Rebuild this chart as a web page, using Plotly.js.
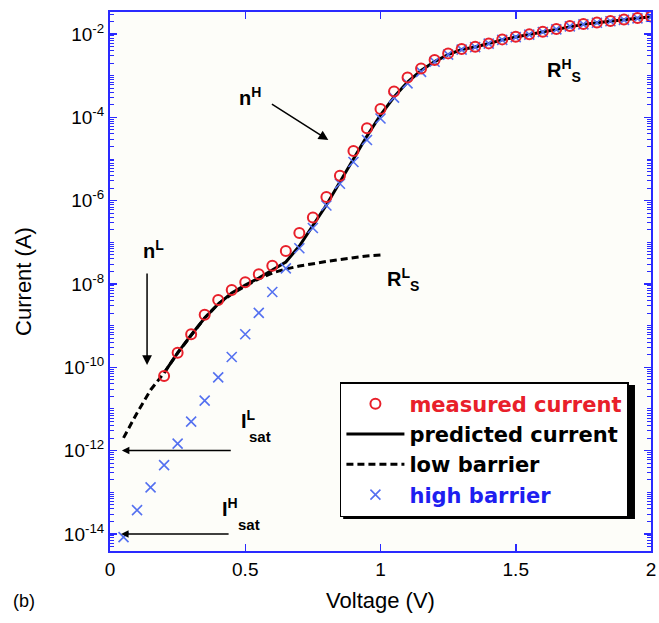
<!DOCTYPE html>
<html><head><meta charset="utf-8">
<script src="https://cdn.plot.ly/plotly-3.0.1.min.js"></script>
<style>body{margin:0;background:#fff}#chart{width:659px;height:623px}</style>
</head><body><div id="chart"></div>
<script>
const voltageMeasured = [0.20,0.25,0.30,0.35,0.40,0.45,0.50,0.55,0.60,0.65,0.70,0.75,0.80,0.85,0.90,0.95,1.00,1.05,1.10,1.15,1.20,1.25,1.30,1.35,1.40,1.45,1.50,1.55,1.60,1.65,1.70,1.75,1.80,1.85,1.90,1.95,2.00];
const currentMeasured = [6.21e-11,2.25e-10,6.21e-10,1.83e-9,4.13e-9,7.18e-9,1.10e-8,1.71e-8,2.75e-8,6.19e-8,1.67e-7,3.94e-7,1.22e-6,3.97e-6,1.56e-5,5.46e-5,1.58e-4,4.17e-4,9.03e-4,1.49e-3,2.38e-3,3.44e-3,4.37e-3,4.95e-3,5.98e-3,7.46e-3,8.61e-3,9.84e-3,1.14e-2,1.32e-2,1.56e-2,1.74e-2,1.89e-2,2.05e-2,2.23e-2,2.42e-2,2.63e-2];

const voltagePredicted = [0.20,0.25,0.30,0.35,0.40,0.45,0.50,0.55,0.60,0.65,0.70,0.75,0.80,0.85,0.90,0.95,1.00,1.05,1.10,1.15,1.20,1.25,1.30,1.35,1.40,1.45,1.50,1.55,1.60,1.65,1.70,1.75,1.80,1.85,1.90,1.95,2.00];
const currentPredicted = [7.33e-11,2.21e-10,5.98e-10,1.53e-9,3.31e-9,6.08e-9,9.46e-9,1.39e-8,2.17e-8,3.37e-8,8.17e-8,2.47e-7,7.87e-7,2.81e-6,1.00e-5,3.56e-5,1.14e-4,3.08e-4,7.05e-4,1.33e-3,2.19e-3,3.22e-3,4.25e-3,4.88e-3,5.92e-3,7.26e-3,8.47e-3,9.73e-3,1.12e-2,1.30e-2,1.53e-2,1.71e-2,1.87e-2,2.03e-2,2.20e-2,2.39e-2,2.60e-2];

const voltageLow = [0.05,0.10,0.15,0.20,0.25,0.30,0.35,0.40,0.45,0.50,0.55,0.60,0.65,0.70,0.75,0.80,0.85,0.90,0.95,1.00];
const currentLow = [2.02e-12,8.03e-12,2.86e-11,7.33e-11,2.21e-10,5.98e-10,1.53e-9,3.31e-9,5.75e-9,8.95e-9,1.32e-8,1.84e-8,2.29e-8,2.70e-8,3.10e-8,3.47e-8,3.87e-8,4.33e-8,4.70e-8,4.97e-8];

const voltageHigh = [0.05,0.10,0.15,0.20,0.25,0.30,0.35,0.40,0.45,0.50,0.55,0.60,0.65,0.70,0.75,0.80,0.85,0.90,0.95,1.00,1.05,1.10,1.15,1.20,1.25,1.30,1.35,1.40,1.45,1.50,1.55,1.60,1.65,1.70,1.75,1.80,1.85,1.90,1.95,2.00];
const currentHigh = [8.35e-15,3.72e-14,1.31e-13,4.47e-13,1.47e-12,4.97e-12,1.58e-11,5.71e-11,1.77e-10,6.21e-10,2.02e-9,6.43e-9,2.38e-8,7.20e-8,2.21e-7,7.66e-7,2.55e-6,8.47e-6,2.86e-5,9.38e-5,2.99e-4,6.56e-4,1.24e-3,2.16e-3,3.22e-3,4.25e-3,4.88e-3,5.92e-3,7.26e-3,8.47e-3,9.73e-3,1.12e-2,1.30e-2,1.53e-2,1.71e-2,1.87e-2,2.03e-2,2.20e-2,2.39e-2,2.60e-2];

const seriesNames = ['measured current','predicted current','low barrier','high barrier'];
const xTickVals = [0,0.5,1,1.5,2];
const xTickText = ['0','0.5','1','1.5','2'];
const yTickVals = [1e-14,1e-12,1e-10,1e-8,1e-6,1e-4,1e-2];
const yTickText = ['10<sup>-14</sup>','10<sup>-12</sup>','10<sup>-10</sup>','10<sup>-8</sup>','10<sup>-6</sup>','10<sup>-4</sup>','10<sup>-2</sup>'];

const AXIS_BLUE = '#2a2aff';
const RED = '#e8202a';
const XBLUE = '#5470f0';
const FONT = 'Liberation Sans, Arial, sans-serif';

const traces = [
  {x: voltagePredicted, y: currentPredicted, type:'scatter', mode:'lines', name: seriesNames[1], legendrank: 2,
   line:{color:'#000', width:3}},
  {x: voltageLow, y: currentLow, type:'scatter', mode:'lines', name: seriesNames[2], legendrank: 3,
   line:{color:'#000', width:3, dash:'7px,4px'}},
  {x: voltageHigh, y: currentHigh, type:'scatter', mode:'markers', name: '<span style="color:#1e1ef0">'+seriesNames[3]+'</span>', legendrank: 4,
   marker:{symbol:'x-thin-open', size:10, color:XBLUE, line:{color:XBLUE, width:1.6}}},
  {x: voltageMeasured, y: currentMeasured, type:'scatter', mode:'markers', name: '<span style="color:#e8202a">'+seriesNames[0]+'</span>', legendrank: 1,
   marker:{symbol:'circle-open', size:10, color:RED, line:{color:RED, width:2}}}
];

function lg(v){ return Math.log10(v); }

const ann = [];
function txt(x, y, text, size, opts){
  ann.push(Object.assign({x:x, y:y, xref:'x', yref:'y', text:text, showarrow:false,
    font:{family:FONT, size:size, color:'#000', weight:'bold'}, xanchor:'center', yanchor:'middle'}, opts||{}));
}
function arrow(hx, hy, tx, ty, size){
  ann.push({x:hx, y:hy, ax:tx, ay:ty, xref:'x', yref:'y', axref:'x', ayref:'y', text:'', showarrow:true,
    arrowhead:2, arrowsize:size, arrowwidth:1.5, arrowcolor:'#000'});
}
txt(0.519, -3.49, 'n<sup>H</sup>', 20);
arrow(0.807, -4.544, 0.593, -3.656, 1.3);
txt(0.159, -7.18, 'n<sup>L</sup>', 20);
arrow(0.137, -9.943, 0.137, -7.712, 1.3);
txt(1.678, -2.864, 'R<sup>H</sup><sub>S</sub>', 20);
txt(1.085, -7.88, 'R<sup>L</sup><sub>S</sub>', 20);
txt(0.511, -11.263, 'I<sup>L</sup>', 20);
txt(0.556, -11.671, 'sat', 15);
arrow(0.044, lg(1e-12), 0.452, lg(1e-12), 1.0);
txt(0.444, -13.375, 'I<sup>H</sup>', 20);
txt(0.515, -13.783, 'sat', 15);
arrow(0.041, lg(1e-14), 0.444, lg(1e-14), 1.0);
ann.push({x:-0.159, y:-0.093, xref:'paper', yref:'paper', text:'(b)', showarrow:false,
  font:{family:FONT, size:18, color:'#000'}, xanchor:'center', yanchor:'middle'});

const layout = {
  width:659, height:623,
  margin:{l:110, r:8, t:12, b:72},
  paper_bgcolor:'#ffffff', plot_bgcolor:'#fdfdf9',
  font:{family:FONT, size:19, color:'#000'},
  showlegend:true,
  legend:{x:0.425, y:0.3135, xanchor:'left', yanchor:'top', bgcolor:'#ffffff', bordercolor:'#000', borderwidth:1.5,
    font:{family:'DejaVu Sans, Liberation Sans, sans-serif', size:21, color:'#000', weight:'bold'}, traceorder:'normal', itemwidth:58, tracegroupgap:0},
  xaxis:{range:[0,2], tickmode:'array', tickvals:xTickVals, ticktext:xTickText, ticks:'inside', ticklen:7, tickwidth:1.5,
    tickcolor:AXIS_BLUE, showline:true, linecolor:AXIS_BLUE, linewidth:2, mirror:'ticks', showgrid:false, zeroline:false,
    tickfont:{family:FONT, size:19, color:'#000'},
    title:{text:'Voltage (V)', font:{family:FONT, size:22, color:'#000'}, standoff:14}},
  yaxis:{type:'log', range:[-14.41,-1.47], tickmode:'array', tickvals:yTickVals, ticktext:yTickText, ticks:'inside', ticklen:7, tickwidth:1.5,
    tickcolor:AXIS_BLUE, showline:true, linecolor:AXIS_BLUE, linewidth:2, mirror:'ticks', showgrid:false, zeroline:false,
    minor:{ticks:'inside', ticklen:4, tickwidth:1, tickcolor:AXIS_BLUE, dtick:'D1', showgrid:false},
    tickfont:{family:FONT, size:19, color:'#000'},
    title:{text:'Current (A)', font:{family:FONT, size:22, color:'#000'}, standoff:26}},
  annotations: ann,
  shapes:[{type:'rect', xref:'paper', yref:'paper', layer:'above', x0:0.431, x1:0.9704, y0:0.0594, y1:0.308,
    fillcolor:'#000', line:{width:0}}]
};

Plotly.newPlot('chart', traces, layout, {displayModeBar:false, staticPlot:true});
</script></body></html>
